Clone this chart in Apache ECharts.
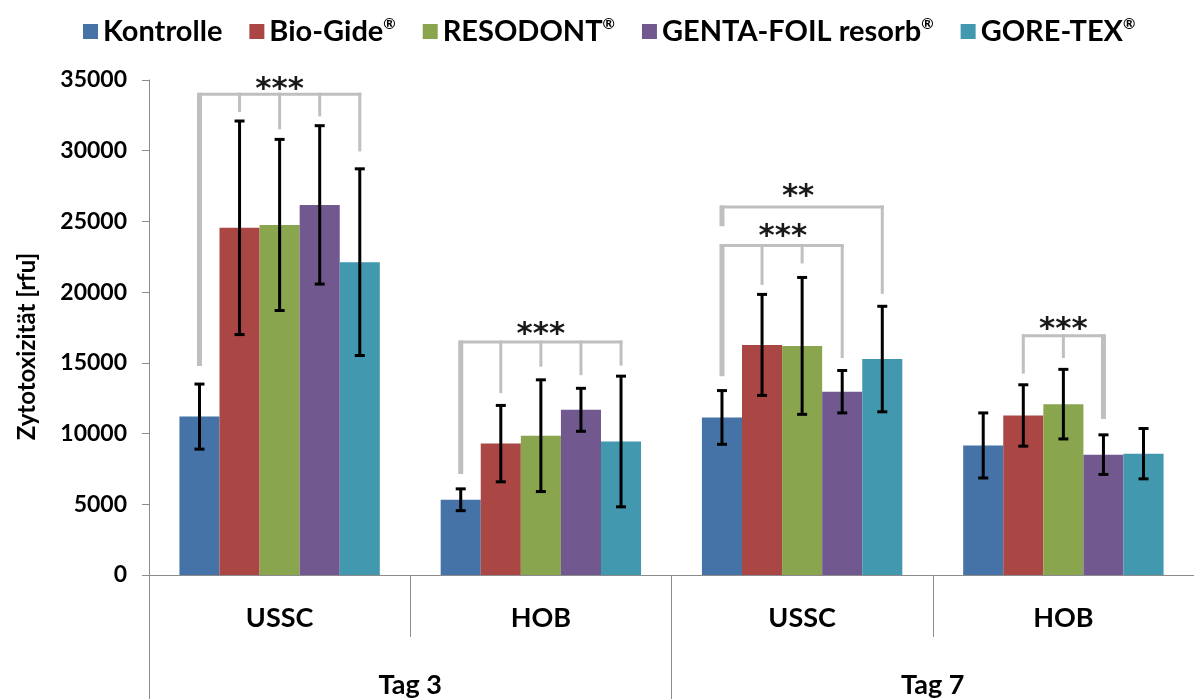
<!DOCTYPE html>
<html>
<head>
<meta charset="utf-8">
<script src="https://cdn.jsdelivr.net/npm/echarts@6/dist/echarts.min.js"></script>
<style>
html,body{margin:0;padding:0;background:#fff;}
#chart{width:1194px;height:699px;}
</style>
</head>
<body>
<div id="chart"></div>
<script>
// ---- data ----
const categories = ['USSC', 'HOB', 'USSC', 'HOB'];
const groups = ['Tag 3', 'Tag 7'];
const seriesNames = ['Kontrolle', 'Bio-Gide®', 'RESODONT®', 'GENTA-FOIL resorb®', 'GORE-TEX®'];
const kontrolle    = [11200, 5320, 11140, 9160];
const kontrolleErr = [2300, 770, 1900, 2300];
const bioGide      = [24550, 9290, 16270, 11280];
const bioGideErr   = [7550, 2700, 3570, 2170];
const resodont     = [24750, 9850, 16200, 12080];
const resodontErr  = [6050, 3950, 4840, 2460];
const gentaFoil    = [26170, 11680, 12960, 8510];
const gentaFoilErr = [5600, 1520, 1500, 1400];
const goreTex      = [22120, 9440, 15270, 8580];
const goreTexErr   = [6600, 4620, 3730, 1780];
const yTicks = [0, 5000, 10000, 15000, 20000, 25000, 30000, 35000];

// significance brackets
const sigLabels     = ['***', '***', '**', '***', '***'];
const sigCategory   = [0, 1, 2, 2, 3];
const sigLevel      = [34000, 16470, 26020, 23290, 16920];
const sigLabelLevel = [34580, 17260, 27020, 24150, 17600];
const sigLabelSlot  = [2, 2, 1.9, 1.52, 2];
const sigLegs = [
  [[0, 14780, 1], [1, 32740, 0], [2, 31510, 0], [3, 32430, 0], [4, 29950, 0]],
  [[0, 7150, 1], [1, 12855, 0], [2, 14733, 0], [3, 14131, 0], [4, 14805, 0]],
  [[0, 24660, 1], [4, 19880, 0]],
  [[0, 14060, 1], [1, 20510, 0], [2, 22030, 0], [3, 15340, 0]],
  [[1, 14240, 0], [2, 15340, 0], [3, 11030, 1]]
];

const values = [kontrolle, bioGide, resodont, gentaFoil, goreTex];
const errors = [kontrolleErr, bioGideErr, resodontErr, gentaFoilErr, goreTexErr];
const colors = ['#4572A7', '#AA4643', '#89A54E', '#71588F', '#4198AF'];

const FONT = 'Lato, "Open Sans", sans-serif';
const CAT_GAP = 0.233;
const N = 5;

function slotX(api, cat, slot) {
  const center = api.coord([cat, 0])[0];
  const band = api.size([1, 0])[0];
  const bw = band * (1 - CAT_GAP) / N;
  return center + (slot - (N - 1) / 2) * bw;
}

const series = [];
values.forEach((vals, i) => {
  series.push({
    name: seriesNames[i],
    type: 'bar',
    data: vals,
    barGap: '0%',
    barCategoryGap: (CAT_GAP * 100) + '%',
    itemStyle: { color: colors[i] },
    z: 2
  });
});
values.forEach((vals, i) => {
  series.push({
    name: 'err' + i,
    type: 'custom',
    clip: false,
    z: 4,
    data: vals.map((v, k) => [k, v - errors[i][k], v + errors[i][k]]),
    renderItem: function (params, api) {
      const cat = api.value(0);
      const x = slotX(api, cat, i);
      const yl = api.coord([cat, api.value(1)])[1];
      const yh = api.coord([cat, api.value(2)])[1];
      const cap = 5;
      const st = { stroke: '#000', lineWidth: 3 };
      return {
        type: 'group',
        children: [
          { type: 'line', shape: { x1: x, y1: yl, x2: x, y2: yh }, style: st },
          { type: 'line', shape: { x1: x - cap, y1: yl, x2: x + cap, y2: yl }, style: st },
          { type: 'line', shape: { x1: x - cap, y1: yh, x2: x + cap, y2: yh }, style: st }
        ]
      };
    }
  });
});
series.push({
  name: 'sig',
  type: 'custom',
  clip: false,
  z: 3,
  data: sigCategory.map((c, k) => [c, sigLevel[k]]),
  renderItem: function (params, api) {
    const k = params.dataIndex;
    const cat = sigCategory[k];
    const legs = sigLegs[k];
    const yLine = api.coord([cat, sigLevel[k]])[1];
    const xs = legs.map(l => slotX(api, cat, l[0]));
    const gray = '#BFBFBF';
    const children = [];
    children.push({ type: 'line', shape: { x1: Math.min(...xs) - 1.5, y1: yLine, x2: Math.max(...xs) + 1.5, y2: yLine },
                    style: { stroke: gray, lineWidth: 3 } });
    legs.forEach((l, j) => {
      const yEnd = api.coord([cat, l[1]])[1];
      children.push({ type: 'line', shape: { x1: xs[j], y1: yLine - 1.5, x2: xs[j], y2: yEnd },
                      style: { stroke: gray, lineWidth: l[2] ? 5 : 3 } });
    });
    const tx = slotX(api, cat, sigLabelSlot[k]);
    const ty = api.coord([cat, sigLabelLevel[k]])[1];
    children.push({ type: 'text', x: tx, y: ty + 4,
      style: { text: sigLabels[k], fill: '#1a1a1a', font: 'bold 31px "DejaVu Sans", sans-serif',
               align: 'center', verticalAlign: 'middle' } });
    return { type: 'group', children: children };
  }
});

const option = {
  animation: false,
  backgroundColor: '#fff',
  legend: {
    data: seriesNames,
    top: 12,
    left: 78,
    itemWidth: 15,
    itemHeight: 15,
    itemGap: 27,
    icon: 'rect',
    formatter: function (name) { return name.replace('®', '{sup|®}'); },
    textStyle: {
      fontFamily: FONT, fontWeight: 'bold', fontSize: 29, color: '#000',
      rich: { sup: { fontFamily: FONT, fontWeight: 'bold', fontSize: 15, color: '#000', verticalAlign: 'top', padding: [0, 0, 11, 0] } }
    }
  },
  grid: { left: 149, width: 1058, top: 80, bottom: 119, containLabel: false },
  xAxis: [
    {
      type: 'category',
      data: categories,
      position: 'bottom',
      axisLine: { show: true, lineStyle: { color: '#8C8C8C', width: 1 } },
      axisTick: { show: true, length: 62, interval: 0, lineStyle: { color: '#8C8C8C' } },
      axisLabel: { interval: 0, margin: 30, fontFamily: FONT, fontWeight: 'bold', fontSize: 27, color: '#000' }
    },
    {
      type: 'category',
      data: groups,
      position: 'bottom',
      offset: 0,
      axisLine: { show: false },
      axisTick: { show: true, length: 125, interval: 0, lineStyle: { color: '#8C8C8C' } },
      axisLabel: { interval: 0, margin: 97, fontFamily: FONT, fontWeight: 'bold', fontSize: 27, color: '#000' }
    }
  ],
  yAxis: {
    type: 'value',
    min: yTicks[0],
    max: yTicks[yTicks.length - 1],
    interval: yTicks[1] - yTicks[0],
    name: 'Zytotoxizität [rfu]',
    nameLocation: 'middle',
    nameGap: 110,
    nameTextStyle: { fontFamily: FONT, fontWeight: 'bold', fontSize: 24, color: '#000', padding: [0, 38, 0, 0] },
    axisLine: { show: true, lineStyle: { color: '#8C8C8C', width: 1 } },
    axisTick: { show: true, length: 7, lineStyle: { color: '#8C8C8C' } },
    splitLine: { show: false },
    axisLabel: { margin: 22, fontFamily: FONT, fontWeight: 'bold', fontSize: 23, color: '#000',
                 formatter: function (v) { return String(v); } }
  },
  series: series
};

const chart = echarts.init(document.getElementById('chart'), null, { renderer: 'canvas' });
chart.setOption(option);
</script>
</body>
</html>
